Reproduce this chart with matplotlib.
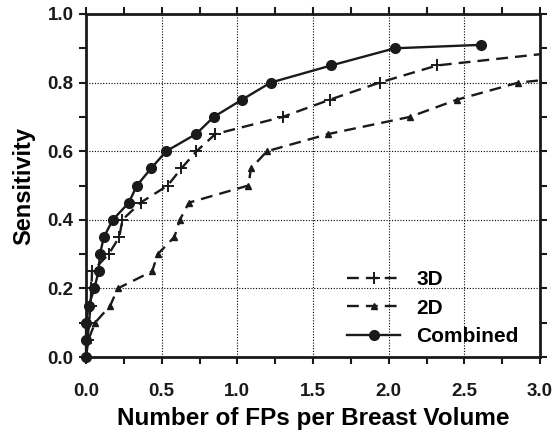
import matplotlib
matplotlib.use("Agg")
import matplotlib.pyplot as plt
from matplotlib.ticker import MultipleLocator

plt.rcParams['font.family'] = ['Liberation Sans', 'DejaVu Sans']
plt.rcParams['font.weight'] = 'bold'

# values
fp_3d = [0.0, 0.01, 0.02, 0.03, 0.035, 0.04, 0.15, 0.22, 0.24, 0.36, 0.54,
         0.63, 0.73, 0.855, 1.30, 1.61, 1.94, 2.32, 3.36]
sens_3d = [0.0, 0.05, 0.10, 0.15, 0.20, 0.25, 0.30, 0.35, 0.40, 0.45, 0.50,
           0.55, 0.60, 0.65, 0.70, 0.75, 0.80, 0.85, 0.90]

fp_2d = [0.0, 0.015, 0.06, 0.16, 0.21, 0.437, 0.474, 0.584, 0.62, 0.68,
         1.073, 1.09, 1.196, 1.60, 2.14, 2.45, 2.857, 3.3]
sens_2d = [0.0, 0.05, 0.10, 0.15, 0.20, 0.25, 0.30, 0.35, 0.40, 0.45,
           0.50, 0.55, 0.60, 0.65, 0.70, 0.75, 0.80, 0.82]

fp_comb = [0.0, 0.0, 0.0, 0.018, 0.055, 0.083, 0.092, 0.118, 0.177, 0.283,
           0.336, 0.43, 0.53, 0.727, 0.844, 1.03, 1.22, 1.62, 2.04, 2.61]
sens_comb = [0.0, 0.05, 0.10, 0.15, 0.20, 0.25, 0.30, 0.35, 0.40, 0.45,
             0.50, 0.55, 0.60, 0.65, 0.70, 0.75, 0.80, 0.85, 0.90, 0.91]

fig = plt.figure(figsize=(5.55, 4.37), dpi=100)
ax = fig.add_axes([0.155, 0.183, 0.818, 0.785])

ax.plot(fp_3d, sens_3d, color='#1a1a1a', linestyle=(0, (5, 3)), linewidth=1.7,
        marker='+', markersize=9, markeredgewidth=1.4, label='3D')
ax.plot(fp_2d, sens_2d, color='#1a1a1a', linestyle=(0, (5, 3)), linewidth=1.7,
        marker='^', markersize=5, label='2D')
ax.plot(fp_comb, sens_comb, color='#1a1a1a', linestyle='-', linewidth=1.7,
        marker='o', markersize=7, label='Combined', clip_on=False, zorder=3)

ax.set_xlim(0, 3.0)
ax.set_ylim(0, 1.0)
ax.xaxis.set_major_locator(MultipleLocator(0.5))
ax.xaxis.set_minor_locator(MultipleLocator(0.25))
ax.yaxis.set_major_locator(MultipleLocator(0.2))
ax.yaxis.set_minor_locator(MultipleLocator(0.1))
ax.xaxis.set_major_formatter('{x:.1f}')
ax.yaxis.set_major_formatter('{x:.1f}')

ax.grid(True, which='major', color='black', linestyle=(0, (1, 1.5)), linewidth=0.8)
for s in ax.spines.values():
    s.set_linewidth(2)
    s.set_color('#1a1a1a')
ax.tick_params(which='both', direction='out', length=5, width=1.5,
               top=True, right=True, colors='#1a1a1a', labelsize=13.5)
ax.tick_params(axis='x', pad=14)
ax.tick_params(axis='y', pad=4)

ax.set_xlabel('Number of FPs per Breast Volume', fontsize=17.5, fontweight='bold', labelpad=5)
ax.set_ylabel('Sensitivity', fontsize=17, fontweight='bold', labelpad=9)

ax.legend(loc='lower right', frameon=False, fontsize=15, handlelength=2.5,
          labelspacing=0.45, handletextpad=0.8, bbox_to_anchor=(0.985, -0.01),
          borderaxespad=0.3)

fig.savefig('out.png', dpi=100)
